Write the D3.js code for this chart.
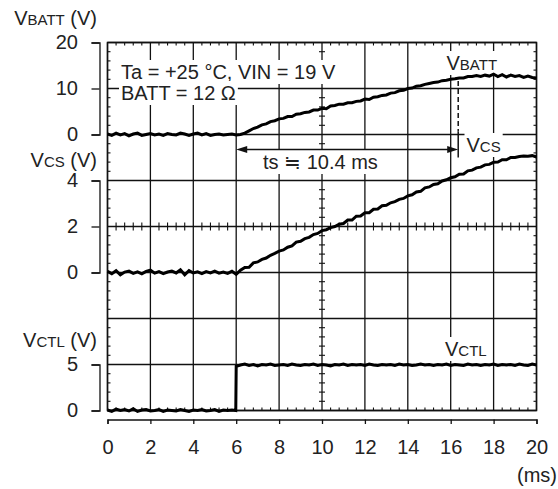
<!DOCTYPE html>
<html><head><meta charset="utf-8">
<script src="https://cdn.jsdelivr.net/npm/d3@7"></script>
<style>
body{margin:0;background:#fff}
svg{display:block}
text{font-family:"Liberation Sans",Arial,Helvetica,sans-serif;fill:#222}
</style>
</head><body>
<svg id="chart" width="558" height="489"></svg>
<script>
// ---------------- data ----------------
const timeTicks = [0, 2, 4, 6, 8, 10, 12, 14, 16, 18, 20];
const vbattTicks = [0, 10, 20];
const vcsTicks = [0, 2, 4];
const vctlTicks = [0, 5];
const sampleStepMs = 0.2;   // scope sample spacing (ms) for VBATT and VCS traces

// VBATT (V), one value per 0.2 ms from 0 to 20 ms
const vbattValues = [
  0.1,-0.2,0.3,-0.1,0.2,-0.3,0.1,0.3,-0.2,0.0,
  0.2,-0.1,0.1,-0.2,0.2,0.0,-0.1,0.3,0.1,-0.2,
  0.1,0.3,-0.1,0.2,-0.2,0.0,0.1,-0.1,0.0,0.1,
  -0.1,0.0,0.3,0.8,1.3,1.6,2.1,2.3,2.8,3.0,
  3.4,3.5,3.9,3.9,4.4,4.5,4.8,4.9,5.3,5.3,
  5.7,5.6,6.2,6.3,6.6,6.6,6.9,6.9,7.2,7.3,
  7.7,7.6,8.1,8.2,8.5,8.6,9.0,9.1,9.5,9.6,
  10.0,10.1,10.5,10.6,10.9,11.1,11.3,11.4,11.7,11.8,
  12.0,12.1,12.3,12.3,12.6,12.6,12.8,12.6,12.9,12.7,
  13.1,12.6,13.0,12.5,12.9,12.6,12.8,12.4,12.7,12.4,
  12.3
];

// VCS (V), one value per 0.2 ms from 0 to 20 ms
const vcsValues = [
  0.05,-0.05,0.08,-0.1,0.02,0.06,-0.04,0.03,-0.06,0.05,
  0.1,-0.03,0.04,-0.05,0.02,0.06,-0.02,0.12,-0.1,0.08,
  -0.02,0.03,-0.05,0.04,-0.02,0.06,-0.03,0.02,-0.04,0.05,
  -0.08,
  0.1,0.22,0.23,0.42,0.46,0.57,0.63,0.75,0.83,0.93,
  0.98,1.1,1.16,1.32,1.36,1.47,1.53,1.65,1.7,1.82,
  1.86,1.95,2.0,2.1,2.13,2.28,2.28,2.45,2.46,2.6,
  2.6,2.75,2.76,2.9,2.92,3.03,3.08,3.18,3.22,3.33,
  3.38,3.5,3.53,3.68,3.72,3.83,3.86,3.98,4.03,4.12,
  4.16,4.27,4.28,4.42,4.45,4.55,4.58,4.68,4.7,4.79,
  4.8,4.9,4.9,5.0,5.0,5.04,5.06,5.05,5.08,5.02
];

// VCTL: values (V) before and after the step at 6 ms
const vctlLowValues = [
  0.05,-0.1,0.15,0.0,0.1,-0.05,0.2,-0.1,0.05,0.1,
  -0.05,0.0,0.1,-0.1,0.05,0.0,-0.05,0.1,0.0,-0.1,
  0.05,0.0,0.1,-0.05,0.0,0.1,-0.1,0.05,0.0,0.05,
  0.0
];
const vctlHighValues = [
  4.8,4.95,5.05,4.9,5.0,4.85,5.0,4.95,5.05,4.9,
  4.95,5.0,4.9,5.05,4.95,4.9,5.0,4.95,5.05,4.9,
  5.0,4.95,4.85,5.0,4.95,5.05,4.9,5.0,4.95,5.0,
  4.9,5.05,4.95,4.9,5.0,4.95,5.0,4.9,5.05,4.95,
  5.0,4.9,4.95,5.05,4.95,5.0,4.9,5.0,4.95,5.05,
  4.9,5.0,4.95,4.9,5.05,4.95,5.0,4.9,5.0,4.95,
  5.05,4.9,5.0,4.95,5.0,4.9,5.05,4.95,4.9,5.05,
  4.95
];
const vctlStepMs = 6.0;

const tsStartMs = 6.0;
const tsEndMs = 16.35;
const vbattAtTs = 12.3;

// ---------------- layout ----------------
const svg = d3.select("#chart");
const X0 = 107.5, X1 = 536.5, Y0 = 42.5, Y1 = 410.5;
const x = d3.scaleLinear().domain([0, 20]).range([X0, X1]);
const rows = d3.scaleLinear().domain([0, 8]).range([Y0, Y1]);
const yB = d3.scaleLinear().domain([0, 20]).range([rows(2), rows(0)]);
const yS = d3.scaleLinear().domain([0, 4]).range([rows(5), rows(3)]);
const yC = d3.scaleLinear().domain([0, 5]).range([rows(8), rows(7)]);

const ink = "#111";
const FS = 20, FSs = 15;

// grid
const grid = svg.append("g").attr("stroke", ink).attr("stroke-width", 1.3);
grid.selectAll("line.v").data(timeTicks).join("line")
  .attr("x1", d => x(d)).attr("x2", d => x(d)).attr("y1", Y0).attr("y2", Y1);
grid.selectAll("line.h").data(d3.range(0, 9)).join("line").attr("class","h")
  .attr("x1", X0).attr("x2", X1).attr("y1", d => rows(d)).attr("y2", d => rows(d));

// minor ticks
const minorT = d3.range(0, 20.001, 0.4).filter(t => Math.abs(t/2 - Math.round(t/2)) > 1e-6);
const minorR = d3.range(0, 8.001, 0.2).filter(r => Math.abs(r - Math.round(r)) > 1e-6);
const mt = svg.append("g").attr("stroke", ink).attr("stroke-width", 1.1);
minorT.forEach(t => {
  mt.append("line").attr("x1", x(t)).attr("x2", x(t)).attr("y1", Y0).attr("y2", Y0 + 3);
  mt.append("line").attr("x1", x(t)).attr("x2", x(t)).attr("y1", Y1 - 3).attr("y2", Y1);
  mt.append("line").attr("x1", x(t)).attr("x2", x(t)).attr("y1", rows(4) - 4).attr("y2", rows(4) + 4);
});
minorR.forEach(r => {
  mt.append("line").attr("x1", X0).attr("x2", X0 + 3).attr("y1", rows(r)).attr("y2", rows(r));
  mt.append("line").attr("x1", X1 - 3).attr("x2", X1).attr("y1", rows(r)).attr("y2", rows(r));
  mt.append("line").attr("x1", x(10) - 3).attr("x2", x(10) + 3).attr("y1", rows(r)).attr("y2", rows(r));
});
svg.append("rect").attr("x", X0).attr("y", Y0).attr("width", X1 - X0).attr("height", Y1 - Y0)
  .attr("fill", "none").attr("stroke", ink).attr("stroke-width", 1.5);

// ---------------- axes ----------------
function styleAxis(g) {
  g.select(".domain").attr("stroke", ink).attr("stroke-width", 1.3);
  g.selectAll(".tick line").attr("stroke", ink).attr("stroke-width", 1.3);
  g.selectAll(".tick text").attr("font-size", FS).attr("fill", "#222")
    .attr("font-family", '"Liberation Sans",Arial,sans-serif');
}
const axX = 99.5;
[[yB, vbattTicks], [yS, vcsTicks], [yC, vctlTicks]].forEach(([s, tv]) => {
  svg.append("g").attr("transform", `translate(${axX},0)`)
    .call(d3.axisLeft(s).tickValues(tv).tickSize(8).tickSizeOuter(8).tickPadding(13.5).tickFormat(d3.format("d")))
    .call(styleAxis);
});
svg.append("g").attr("transform", "translate(0,419.5)")
  .call(d3.axisBottom(x).tickValues(timeTicks).tickSize(4.5).tickSizeOuter(4.5).tickPadding(16).tickFormat(d3.format("d")))
  .call(styleAxis);

svg.append("text").attr("x", 557).attr("y", 482).attr("text-anchor", "end").attr("font-size", FS).text("(ms)");

// multi-size label helper
function label(g, xPos, yPos, parts, anchor, box) {
  const t = g.append("text").attr("x", xPos).attr("y", yPos).attr("text-anchor", anchor || "start");
  parts.forEach(([s, sz]) => t.append("tspan").attr("font-size", sz).text(s));
  if (box) {
    const b = t.node().getBBox();
    g.insert("rect", () => t.node()).attr("x", b.x - 2).attr("y", b.y - 1)
      .attr("width", b.width + 4).attr("height", b.height + 2).attr("fill", "#fff");
  }
  return t;
}

// axis titles
const titles = svg.append("g");
label(titles, 97, 25, [["V", FS], ["BATT", FSs], [" (V)", FS]], "end");
label(titles, 97, 167, [["V", FS], ["CS", FSs], [" (V)", FS]], "end");
label(titles, 97, 347, [["V", FS], ["CTL", FSs], [" (V)", FS]], "end");

// in-plot labels with white backing
const ann = svg.append("g");
label(ann, 121, 79, [["Ta = +25 °C, VIN = 19 V", FS]], "start", true);
label(ann, 121, 100, [["BATT = 12 Ω", FS]], "start", true);
label(ann, 446.5, 70, [["V", FS], ["BATT", FSs]], "start", true);
label(ann, 466.5, 152, [["V", FS], ["CS", FSs]], "start", true);
label(ann, 445, 356, [["V", FS], ["CTL", FSs]], "start", true);
label(ann, 263, 169, [["ts ≒ 10.4 ms", FS]], "start", true);

// ts marker
const mk = svg.append("g").attr("stroke", ink).attr("stroke-width", 1.5);
mk.append("line").attr("x1", x(tsEndMs)).attr("x2", x(tsEndMs))
  .attr("y1", yB(vbattAtTs) + 3).attr("y2", yB(0) - 3).attr("stroke-dasharray", "5,3");
mk.append("line").attr("x1", x(tsEndMs)).attr("x2", x(tsEndMs)).attr("y1", yB(0) - 3).attr("y2", yB(0) + 23);
const arrowY = 149.5;
mk.append("line").attr("x1", x(tsStartMs) + 8).attr("x2", x(tsEndMs) - 8).attr("y1", arrowY).attr("y2", arrowY);
svg.append("path").attr("fill", ink)
  .attr("d", `M${x(tsStartMs)},${arrowY}l11,-3.5v7z M${x(tsEndMs)},${arrowY}l-11,-3.5v7z`);

// ---------------- traces ----------------
const sampleTimes = vbattValues.map((_, i) => i * sampleStepMs);
const vctlTimes = vctlLowValues.map((_, i) => i < 30 ? i * sampleStepMs : vctlStepMs - 0.02)
  .concat(vctlHighValues.map((_, i) => vctlStepMs + i * sampleStepMs));
const vctlValues = vctlLowValues.concat(vctlHighValues);

const traceStyle = p => p.attr("fill", "none").attr("stroke", "#000").attr("stroke-width", 3)
  .attr("stroke-linejoin", "miter").attr("stroke-miterlimit", 3);
svg.append("path").datum(vbattValues.map((v, i) => [sampleTimes[i], v]))
  .attr("d", d3.line().x(d => x(d[0])).y(d => yB(d[1]))).call(traceStyle);
svg.append("path").datum(vcsValues.map((v, i) => [sampleTimes[i], v]))
  .attr("d", d3.line().x(d => x(d[0])).y(d => yS(d[1]))).call(traceStyle);
svg.append("path").datum(vctlValues.map((v, i) => [vctlTimes[i], v]))
  .attr("d", d3.line().x(d => x(d[0])).y(d => yC(d[1]))).call(traceStyle);
</script>
</body></html>
